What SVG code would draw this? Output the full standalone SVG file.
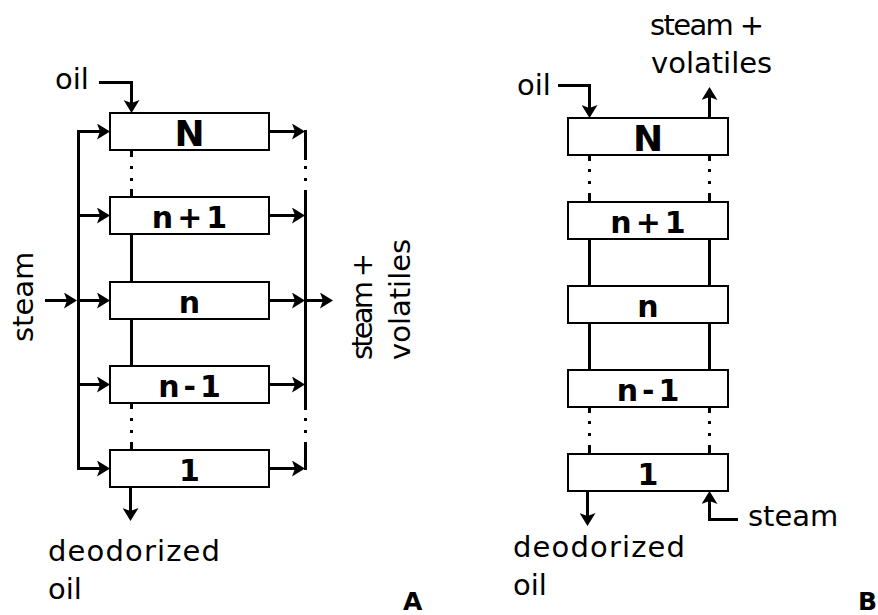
<svg xmlns="http://www.w3.org/2000/svg" width="878" height="615" viewBox="0 0 878 615">
<style>
  .box{fill:#fff;stroke:#000;stroke-width:2}
  .blab{font-family:"DejaVu Sans",sans-serif;font-weight:bold;font-size:30px;letter-spacing:4px;text-anchor:middle;fill:#000}
  .big{font-size:36px;letter-spacing:0}
  .lab{font-family:"DejaVu Sans",sans-serif;font-size:29px;fill:#000}
  .tag{font-family:"DejaVu Sans",sans-serif;font-weight:bold;font-size:25px;fill:#000}
  .ln{fill:none;stroke:#000;stroke-width:3}
  .ar{fill:none;stroke:#000;stroke-width:3;marker-end:url(#ah)}
</style>
<defs>
  <marker id="ah" viewBox="0 0 13 16" refX="10" refY="8" markerWidth="13" markerHeight="16" markerUnits="userSpaceOnUse" orient="auto">
    <path d="M0,0 L13,8 L0,16 L3,8 z" fill="#000"/>
  </marker>
</defs>
<rect width="878" height="615" fill="#fff"/>

<!-- Diagram A -->
<g id="connectors-A">
  <path class="ln" d="M78.5,131.5 V468.5"/>
  <path class="ar" d="M77,131.5 H107"/>
  <path class="ar" d="M77,215.5 H107"/>
  <path class="ar" d="M77,300.5 H107"/>
  <path class="ar" d="M77,384.5 H107"/>
  <path class="ar" d="M77,468.5 H107"/>
  <path class="ar" d="M45,300.5 H74"/>
  <path class="ar" d="M270,131.5 H302"/>
  <path class="ar" d="M270,215.5 H302"/>
  <path class="ar" d="M270,300.5 H302"/>
  <path class="ar" d="M270,384.5 H302"/>
  <path class="ar" d="M270,468.5 H302"/>
  <path class="ln" d="M305.5,130 V160 M305.5,166 v3 M305.5,178 v3 M305.5,190 V410 M305.5,418 v3 M305.5,430 v3 M305.5,442 V470"/>
  <path class="ar" d="M305,300.5 H330"/>
  <path class="ln" d="M131.5,150 V157 M131.5,166 v3 M131.5,178 v3 M131.5,189 V197 M131.5,234 V282 M131.5,319 V366 M131.5,403 V409 M131.5,418 v3 M131.5,430 v3 M131.5,442 V450"/>
  <path class="ar" d="M99,82.5 H131.5 V110"/>
  <path class="ar" d="M130.5,487 V518"/>
</g>
<g id="A-N"><rect class="box" x="110" y="113" width="159" height="37"/><text class="blab big" x="189.5" y="146">N</text></g>
<g id="A-n1"><rect class="box" x="110" y="197" width="159" height="37"/><text class="blab" x="191.5" y="228">n+1</text></g>
<g id="A-n"><rect class="box" x="110" y="282" width="159" height="37"/><text class="blab" x="191.5" y="313">n</text></g>
<g id="A-nm1"><rect class="box" x="110" y="366" width="159" height="37"/><text class="blab" x="191.5" y="397">n-1</text></g>
<g id="A-1"><rect class="box" x="110" y="450" width="159" height="37"/><text class="blab" x="191.5" y="481">1</text></g>
<g id="A-labels">
  <text class="lab" x="55" y="89">oil</text>
  <text class="lab" transform="translate(33,342) rotate(-90)">steam</text>
  <text class="lab" font-size="28" transform="translate(372,360) rotate(-90)" textLength="107" lengthAdjust="spacing">steam +</text>
  <text class="lab" font-size="28" transform="translate(410,360) rotate(-90)">volatiles</text>
  <text class="lab" x="48" y="561" textLength="172" lengthAdjust="spacing">deodorized</text>
  <text class="lab" x="48" y="599">oil</text>
  <text class="tag" x="403" y="610">A</text>
</g>

<!-- Diagram B -->
<g id="connectors-B">
  <path class="ln" d="M589.5,155 V161 M589.5,169 v3 M589.5,181 v3 M589.5,193 V202 M589.5,239 V286 M589.5,323 V370 M589.5,407 V413 M589.5,421 v3 M589.5,433 v3 M589.5,445 V454"/>
  <path class="ln" d="M709.5,155 V161 M709.5,169 v3 M709.5,181 v3 M709.5,193 V202 M709.5,239 V286 M709.5,323 V370 M709.5,407 V413 M709.5,421 v3 M709.5,433 v3 M709.5,445 V454"/>
  <path class="ar" d="M558,85.5 H589.5 V115"/>
  <path class="ar" d="M709.5,118 V90"/>
  <path class="ar" d="M587.5,491 V523"/>
  <path class="ar" d="M738,519.5 H709.5 V494"/>
</g>
<g id="B-N"><rect class="box" x="568" y="118" width="160" height="37"/><text class="blab big" x="648" y="151">N</text></g>
<g id="B-n1"><rect class="box" x="568" y="202" width="160" height="37"/><text class="blab" x="650" y="233">n+1</text></g>
<g id="B-n"><rect class="box" x="568" y="286" width="160" height="37"/><text class="blab" x="650" y="317">n</text></g>
<g id="B-nm1"><rect class="box" x="568" y="370" width="160" height="37"/><text class="blab" x="650" y="401">n-1</text></g>
<g id="B-1"><rect class="box" x="568" y="454" width="160" height="37"/><text class="blab" x="650" y="485">1</text></g>
<g id="B-labels">
  <text class="lab" x="517" y="95">oil</text>
  <text class="lab" x="650" y="35" textLength="114" lengthAdjust="spacing">steam +</text>
  <text class="lab" x="651" y="73">volatiles</text>
  <text class="lab" x="513" y="557" textLength="172" lengthAdjust="spacing">deodorized</text>
  <text class="lab" x="513" y="595">oil</text>
  <text class="lab" x="748" y="526">steam</text>
  <text class="tag" x="858" y="610">B</text>
</g>
</svg>
